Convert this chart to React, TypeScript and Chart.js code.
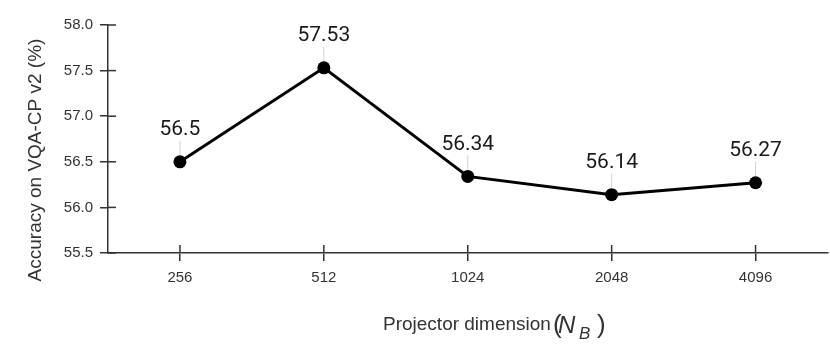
import React, { useEffect, useRef } from "react";
import { Chart, registerables } from "chart.js";

Chart.register(...registerables);

const categories = ["256", "512", "1024", "2048", "4096"];
const accuracy = [56.5, 57.53, 56.34, 56.14, 56.27];
const pointLabels = ["56.5", "57.53", "56.34", "56.14", "56.27"];
const yMin = 55.5;
const yMax = 58.0;
const yStep = 0.5;

const AXIS_COLOR = "#333333";
const SANS = "'Liberation Sans', Arial, sans-serif";

const extras = {
  id: "extras",
  afterDatasetsDraw(chart: any) {
    const ctx = chart.ctx;
    const meta = chart.getDatasetMeta(0);
    ctx.save();
    meta.data.forEach((pt: any, i: number) => {
      ctx.strokeStyle = "#d0d0d0";
      ctx.lineWidth = 1;
      ctx.beginPath();
      ctx.moveTo(pt.x, pt.y - 7);
      ctx.lineTo(pt.x, pt.y - 21);
      ctx.stroke();
      ctx.fillStyle = "#1a1a1a";
      ctx.font = "21px Roboto, sans-serif";
      ctx.textAlign = "center";
      ctx.textBaseline = "middle";
      ctx.fillText(pointLabels[i], pt.x, pt.y - 32);
    });
    ctx.restore();
  },
  afterDraw(chart: any) {
    const ctx = chart.ctx;
    const xs = chart.scales.x;
    const ys = chart.scales.y;
    const area = chart.chartArea;
    ctx.save();
    ctx.strokeStyle = AXIS_COLOR;
    ctx.lineWidth = 1.5;
    ys.ticks.forEach((_t: any, i: number) => {
      const y = ys.getPixelForTick(i);
      ctx.beginPath();
      ctx.moveTo(area.left, y);
      ctx.lineTo(area.left + 8, y);
      ctx.stroke();
    });
    xs.ticks.forEach((_t: any, i: number) => {
      const x = xs.getPixelForTick(i);
      ctx.beginPath();
      ctx.moveTo(x, area.bottom);
      ctx.lineTo(x, area.bottom - 8);
      ctx.stroke();
    });
    // y title
    ctx.fillStyle = "#333";
    ctx.font = `19px ${SANS}`;
    ctx.textAlign = "center";
    ctx.textBaseline = "middle";
    ctx.translate(36, 160);
    ctx.rotate(-Math.PI / 2);
    ctx.fillText("Accuracy on VQA-CP v2 (%)", 0, 0);
    ctx.restore();

    // x title with subscript
    ctx.save();
    ctx.fillStyle = "#333";
    ctx.textBaseline = "alphabetic";
    ctx.textAlign = "left";
    const base = 330;
    const x0 = 383;
    ctx.font = `19px ${SANS}`;
    const t1 = "Projector dimension";
    ctx.fillText(t1, x0, base);
    const p = x0 + ctx.measureText(t1).width;
    ctx.font = `26px ${SANS}`;
    ctx.fillText("(", p + 2, base + 3);
    ctx.font = `italic 24px ${SANS}`;
    ctx.fillText("N", p + 7, base + 3);
    ctx.font = `italic 17px ${SANS}`;
    ctx.fillText("B", p + 28, base + 9);
    ctx.font = `26px ${SANS}`;
    ctx.fillText(")", p + 46, base + 3);
    ctx.restore();
  },
};

export default function App() {
  const ref = useRef<HTMLCanvasElement>(null);
  useEffect(() => {
    if (!ref.current) return;
    const chart = new Chart(ref.current, {
      type: "line",
      data: {
        labels: categories,
        datasets: [
          {
            data: accuracy,
            borderColor: "#000",
            backgroundColor: "#000",
            borderWidth: 3,
            pointRadius: 6.5,
            pointHoverRadius: 6.5,
            pointBackgroundColor: "#000",
            pointBorderWidth: 0,
            tension: 0,
          },
        ],
      },
      options: {
        animation: false,
        responsive: true,
        maintainAspectRatio: false,
        layout: { padding: { top: 25, right: 2, left: 0, bottom: 0 } },
        plugins: {
          legend: { display: false },
          tooltip: { enabled: false },
        },
        scales: {
          x: {
            type: "category",
            offset: true,
            grid: {
              drawOnChartArea: false,
              drawTicks: true,
              tickLength: 8,
              color: AXIS_COLOR,
              lineWidth: 1.5,
              offset: false,
            },
            border: { display: true, color: AXIS_COLOR, width: 1.5 },
            ticks: {
              color: "#333",
              font: { family: SANS, size: 15 },
              padding: 8,
              maxRotation: 0,
            },
            afterFit(scale: any) {
              scale.height = 94;
              scale.paddingLeft = 0;
              scale.paddingRight = 0;
            },
          },
          y: {
            min: yMin,
            max: yMax,
            grid: {
              drawOnChartArea: false,
              drawTicks: true,
              tickLength: 8,
              color: AXIS_COLOR,
              lineWidth: 1.5,
            },
            border: { display: true, color: AXIS_COLOR, width: 1.5 },
            ticks: {
              stepSize: yStep,
              color: "#333",
              font: { family: SANS, size: 15 },
              padding: 7,
              callback: (v: any) => Number(v).toFixed(1),
            },
            afterFit(scale: any) {
              scale.width = 108;
            },
          },
        },
      },
      plugins: [extras],
    });
    return () => chart.destroy();
  }, []);
  return (
    <div style={{ position: "fixed", left: 0, top: 0, width: 834, height: 347, background: "#fff" }}>
      <canvas ref={ref} />
    </div>
  );
}
